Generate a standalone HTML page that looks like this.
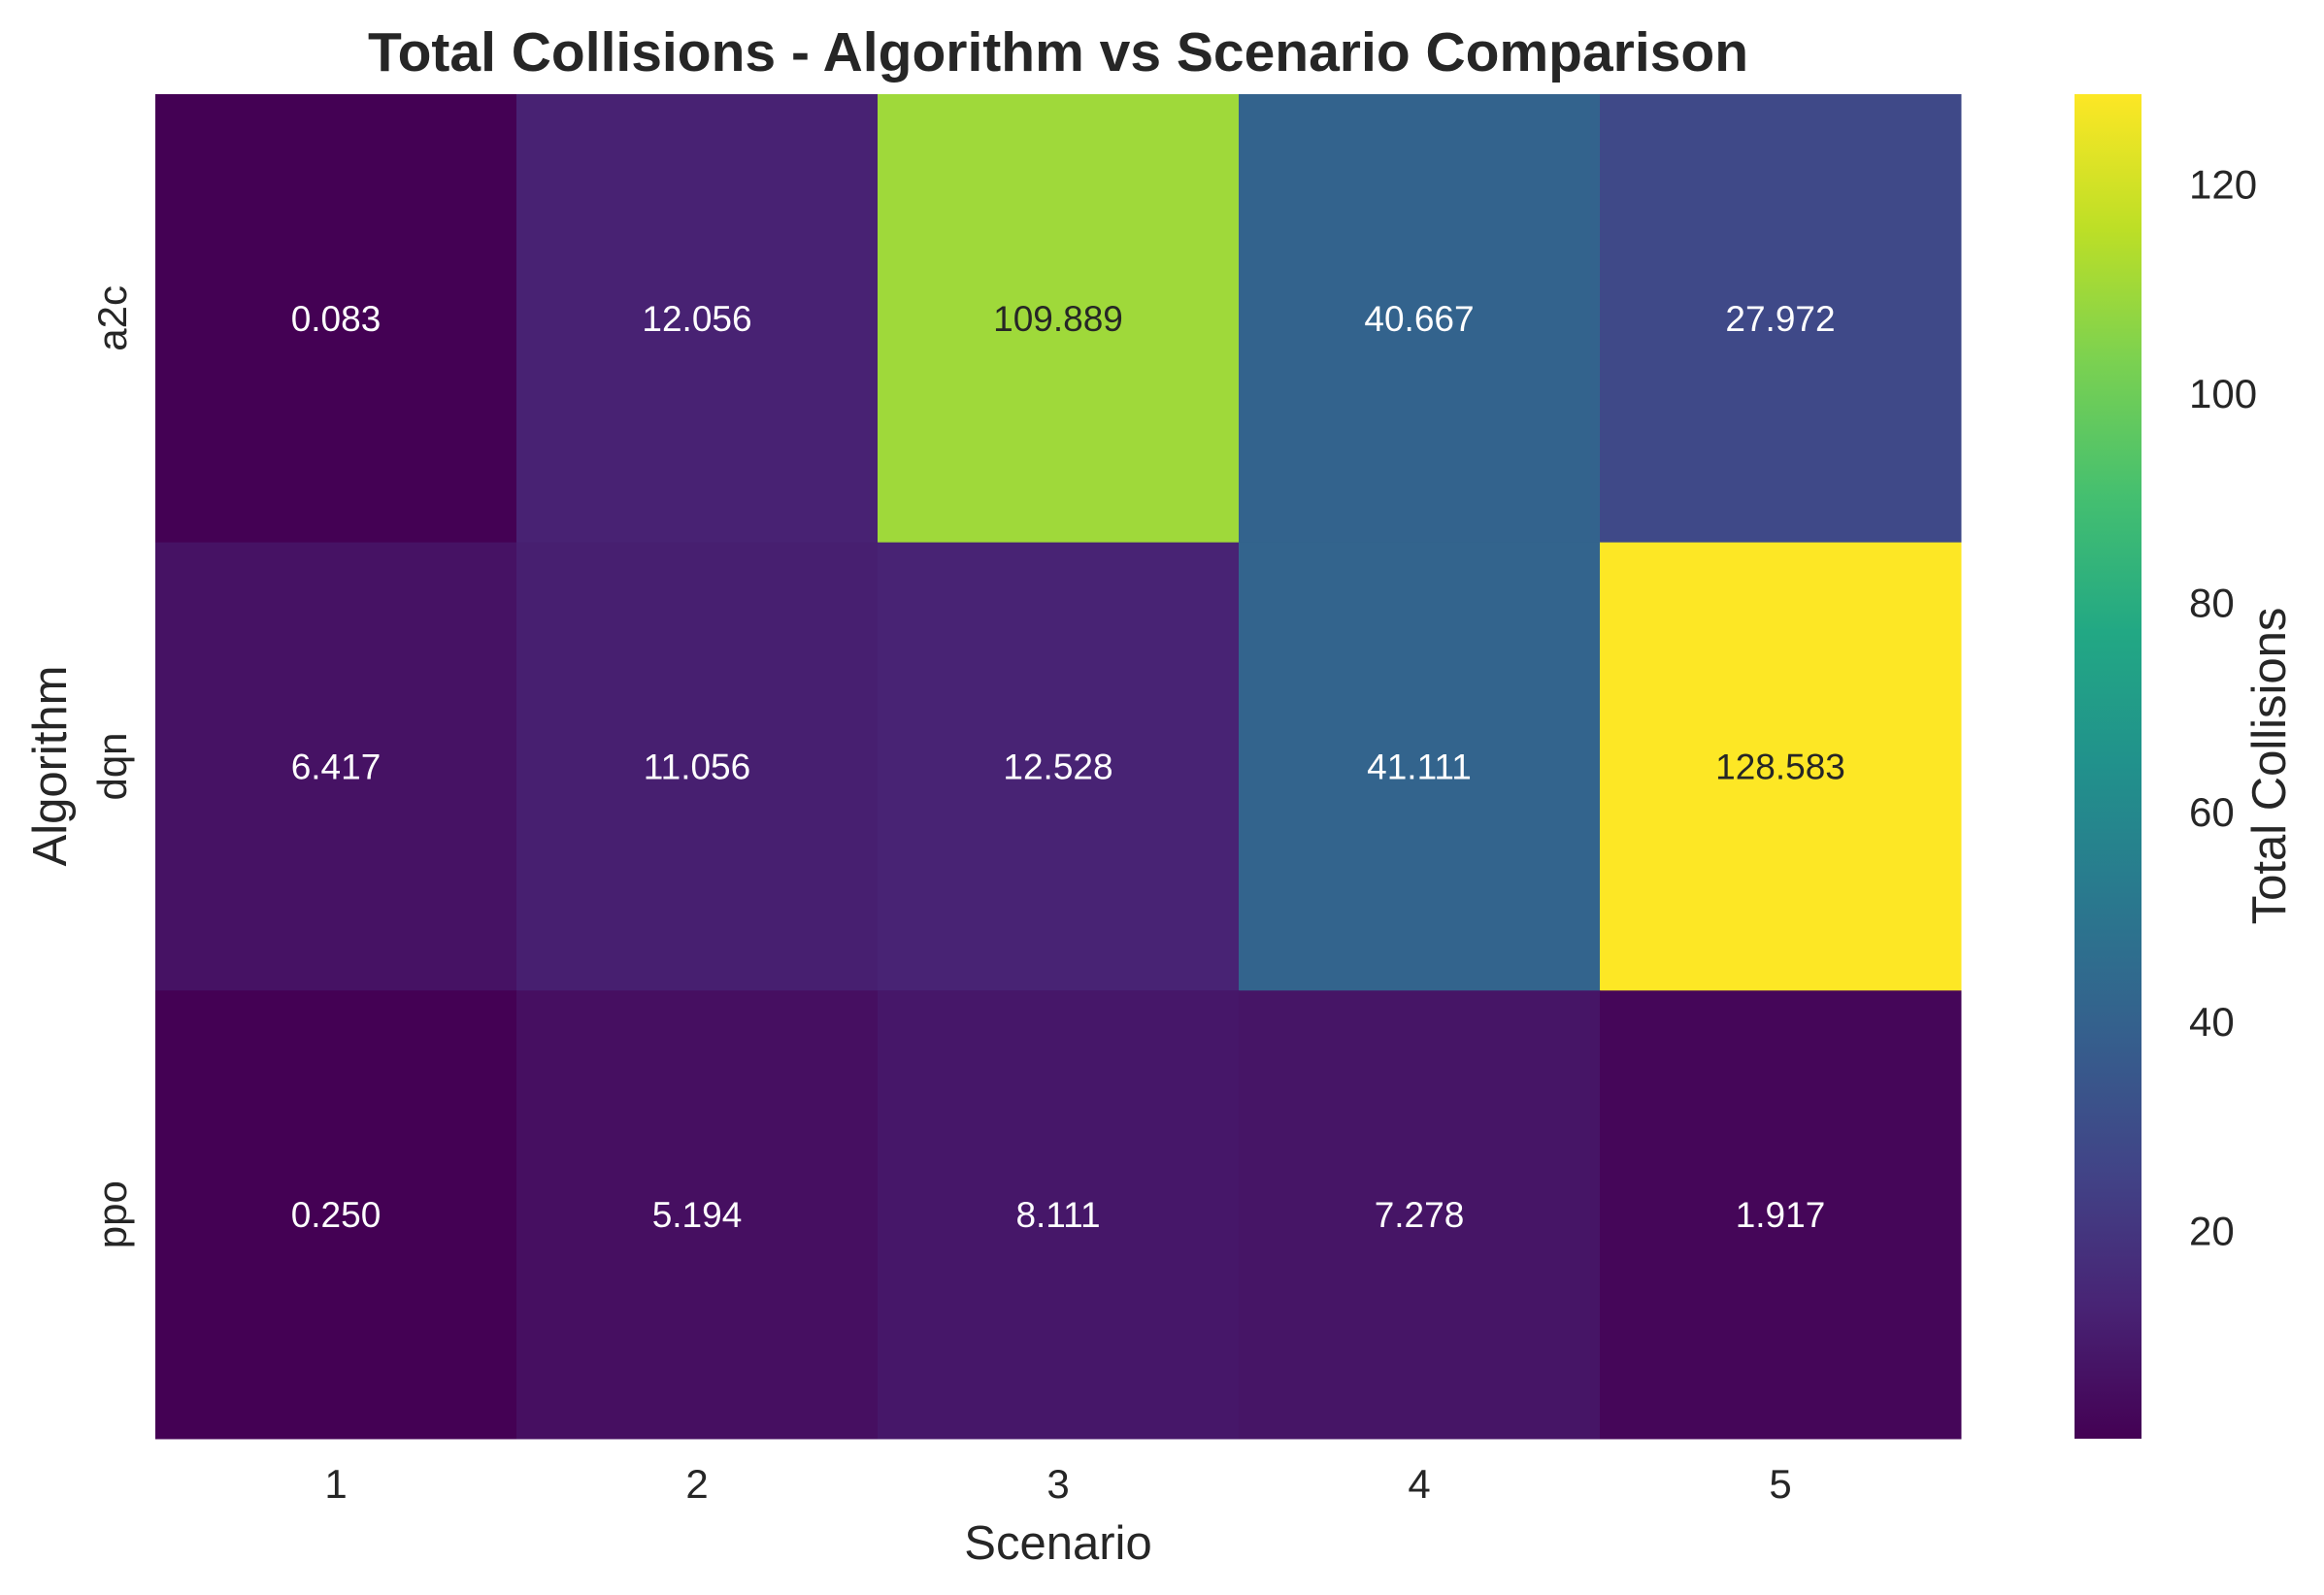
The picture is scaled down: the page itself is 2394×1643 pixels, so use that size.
<!DOCTYPE html>
<html><head><meta charset="utf-8"><style>
html,body{margin:0;padding:0;background:#fff;}
svg{display:block;font-family:"Liberation Sans",Arial,sans-serif;}
</style></head><body>
<svg id="chart" width="2394" height="1643" viewBox="0 0 2394 1643" xmlns="http://www.w3.org/2000/svg">
<defs><linearGradient id="cbgrad" x1="0" y1="1" x2="0" y2="0"></linearGradient></defs>
<text x="1090" y="73" text-anchor="middle" font-size="57" font-weight="bold" fill="#262626">Total Collisions - Algorithm vs Scenario Comparison</text>
<g id="cells"></g>
<g id="xticks"></g>
<g id="yticks"></g>
<text x="1090" y="1606" text-anchor="middle" font-size="49" fill="#262626">Scenario</text>
<text transform="translate(68,789) rotate(-90)" text-anchor="middle" font-size="49" fill="#262626">Algorithm</text>
<rect x="2137" y="97" width="69" height="1385" fill="url(#cbgrad)"/>
<g id="cbticks"></g>
<text transform="translate(2354,789) rotate(-90)" text-anchor="middle" font-size="49" fill="#262626">Total Collisions</text>
</svg>
<script>
const scenarios = ["1","2","3","4","5"];
const algorithms = ["a2c","dqn","ppo"];
const rowA2c = [0.083, 12.056, 109.889, 40.667, 27.972];
const rowDqn = [6.417, 11.056, 12.528, 41.111, 128.583];
const rowPpo = [0.250, 5.194, 8.111, 7.278, 1.917];
const cbTicks = [20, 40, 60, 80, 100, 120];

const rows = [rowA2c, rowDqn, rowPpo];
const NS = "http://www.w3.org/2000/svg";
const L = 160, R = 2020, T = 97, B = 1482;
const all = rows.flat();
const vmin = Math.min(...all), vmax = Math.max(...all);
const cw = (R - L) / scenarios.length, rh = (B - T) / algorithms.length;
const xPos = i => L + i * cw;
const yPos = j => T + j * rh;
const cbY = v => B - (v - vmin) / (vmax - vmin) * (B - T);
const stops = ["#440154","#482475","#414487","#355f8d","#2a788e","#21918c","#22a884","#44bf70","#7ad151","#bddf26","#fde725"];
function hex(h){return [1,3,5].map(k=>parseInt(h.substr(k,2),16));}
function viridis(t){
  t=Math.max(0,Math.min(1,t));
  const p=t*10, i=Math.min(9,Math.floor(p)), f=p-i;
  const a=hex(stops[i]), b=hex(stops[i+1]);
  return a.map((c,k)=>Math.round(c+(b[k]-c)*f));
}
function mk(tag, attrs, parent, txt){
  const e=document.createElementNS(NS,tag);
  for(const k in attrs) e.setAttribute(k,attrs[k]);
  if(txt!==undefined) e.textContent=txt;
  parent.appendChild(e); return e;
}
const grad=document.getElementById('cbgrad');
stops.forEach((s,i)=>mk('stop',{offset:(i*10)+'%','stop-color':s},grad));
const cells=document.getElementById('cells');
rows.forEach((row,j)=>{
  row.forEach((v,i)=>{
    const c=viridis((v-vmin)/(vmax-vmin));
    const r=mk('rect',{x:xPos(i),y:yPos(j),width:cw+0.5,height:rh+0.5,fill:`rgb(${c.join(',')})`},cells);
    
    
    const lum=(0.299*c[0]+0.587*c[1]+0.114*c[2])/255;
    const t=mk('text',{x:xPos(i)+cw/2,y:yPos(j)+rh/2+13,'text-anchor':'middle','font-size':37,fill:lum>0.5?'#262626':'#ffffff'},cells,v.toFixed(3));
    
    
  });
});
const xt=document.getElementById('xticks');
scenarios.forEach((s,i)=>{
  const t=mk('text',{x:xPos(i)+cw/2,y:1543,'text-anchor':'middle','font-size':42,fill:'#262626'},xt,s);
  
  
});
const yt=document.getElementById('yticks');
algorithms.forEach((a,j)=>{
  const y=yPos(j)+rh/2;
  const t=mk('text',{transform:`translate(130,${y}) rotate(-90)`,'text-anchor':'middle','font-size':42,fill:'#262626'},yt,a);
  
  
});
const cbt=document.getElementById('cbticks');
cbTicks.forEach(v=>{
  const t=mk('text',{x:2255,y:cbY(v)+15,'font-size':42,fill:'#262626'},cbt,String(v));
  
  
});
</script>
</body></html>
